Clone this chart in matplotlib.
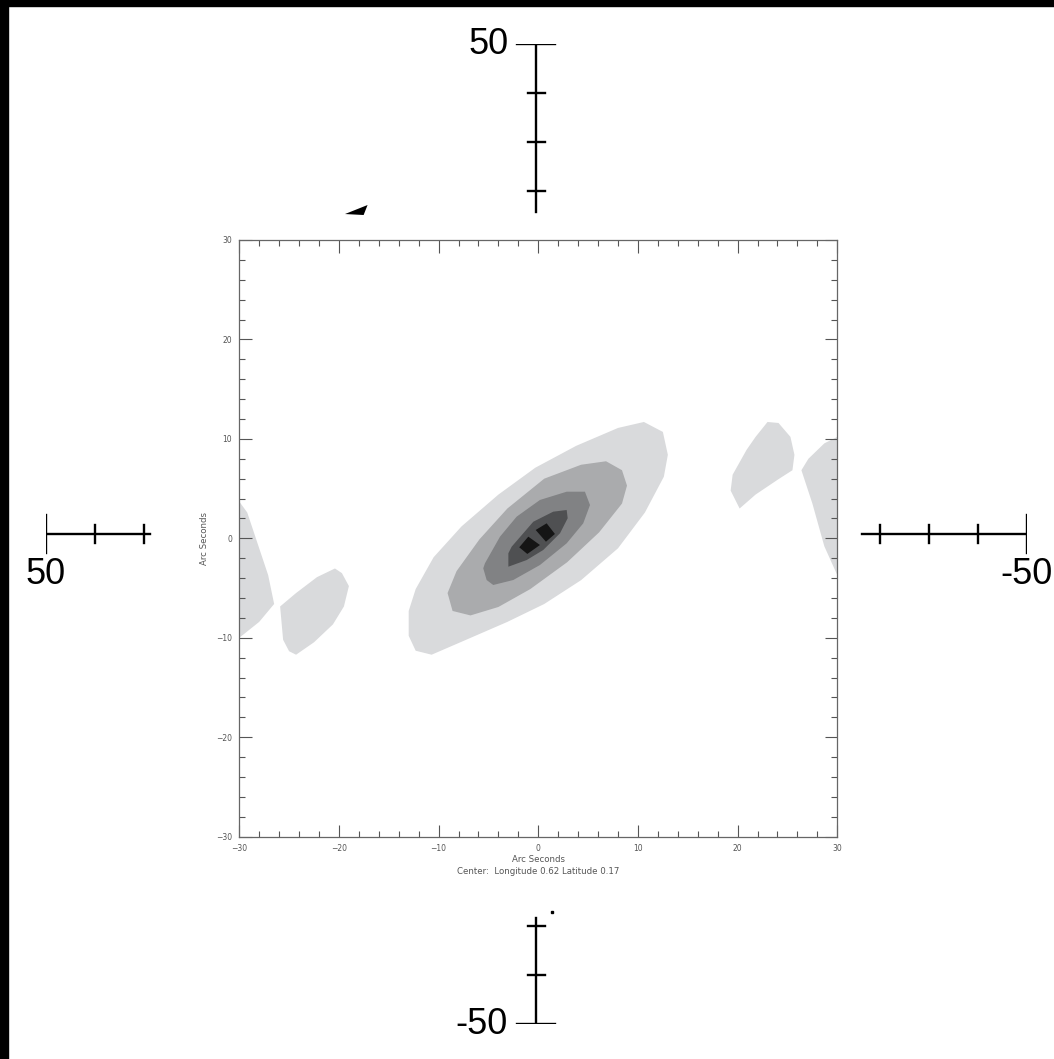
import matplotlib
matplotlib.use("Agg")
import matplotlib.pyplot as plt
from matplotlib.patches import Rectangle
from matplotlib.ticker import MultipleLocator

# filled contour outlines (arc seconds)
lev1_x = [10.6, 12.5, 13.0, 12.6, 10.7, 8.0, 4.3, 0.6, -3.1, -7.7, -10.7, -12.3, -13.0, -13.0, -12.3, -10.5, -7.7, -4.0, -0.3, 3.8, 8.0]
lev1_y = [11.7, 10.7, 8.4, 6.2, 2.6, -1.0, -4.2, -6.6, -8.4, -10.4, -11.7, -11.3, -9.8, -7.3, -5.1, -1.9, 1.2, 4.4, 7.1, 9.3, 11.1]

lev2_x = [6.8, 8.4, 8.9, 8.4, 6.1, 2.9, -0.8, -4.0, -6.8, -8.6, -9.1, -8.2, -5.9, -3.1, 0.6, 4.3]
lev2_y = [7.75, 6.85, 5.3, 3.5, 0.6, -2.4, -5.1, -6.9, -7.75, -7.3, -5.5, -3.3, -0.1, 3.0, 6.0, 7.4]

lev3_x = [-5.52, -5.35, -3.84, -2.17, 0.17, 2.85, 4.68, 5.19, 4.51, 2.85, 0.17, -2.51, -4.52, -5.18]
lev3_y = [-3.01, -2.51, 0.17, 2.18, 3.86, 4.69, 4.69, 3.35, 1.51, -0.5, -2.68, -4.19, -4.69, -4.19]

lev4_x = [-3.0, -3.0, -2.67, -0.5, 1.5, 2.85, 2.95, 2.18, 0.5, -1.16]
lev4_y = [-2.85, -1.5, -0.84, 1.67, 2.68, 2.85, 2.02, 0.51, -1.17, -2.18]

peak_a_x = [-1.91, -1.0, 0.17, -1.1]
peak_a_y = [-0.90, 0.17, -0.67, -1.57]
peak_b_x = [-0.26, 0.84, 1.67, 0.77]
peak_b_y = [0.84, 1.51, 0.44, -0.34]

# side lobes, lowest level only
lobe_r_x = [23.0, 24.1, 25.3, 25.7, 25.5, 24.1, 21.8, 20.2, 19.3, 19.5, 20.9, 21.8]
lobe_r_y = [11.7, 11.6, 10.2, 8.4, 6.85, 5.95, 4.4, 3.0, 4.8, 6.4, 8.9, 10.2]
lobe_rr_x = [30.0, 28.7, 27.1, 26.4, 27.5, 28.7, 30.0]
lobe_rr_y = [10.2, 9.55, 8.0, 6.85, 3.5, -0.8, -3.7]
lobe_ll_x = [-30.0, -29.2, -28.0, -27.1, -26.5, -28.0, -30.0]
lobe_ll_y = [3.7, 2.6, -1.0, -3.7, -6.6, -8.4, -10.0]
lobe_l_x = [-20.4, -19.7, -19.0, -19.5, -20.6, -22.5, -24.3, -25.0, -25.6, -25.9, -24.3, -22.2]
lobe_l_y = [-3.03, -3.5, -4.8, -6.85, -8.65, -10.45, -11.7, -11.35, -10.2, -6.85, -5.5, -3.9]

level_colors = ["#d9dadc", "#aaabad", "#818284", "#4f5052", "#151515"]

# outer scale bars (arc seconds, east to the left)
top_bar = [50, 32.9]
top_ticks = [45, 40, 35]
bottom_bar = [-39.2, -50]
bottom_ticks = [-40, -45]
left_bar = [50, 39.4]
left_ticks = [45, 40]
right_bar = [-33.2, -50]
right_ticks = [-35, -40, -45]

fig = plt.figure(figsize=(10.54, 10.59), dpi=100)
fig.patch.set_facecolor("white")
fig.patches.append(Rectangle((0, 0), 8 / 1054, 1, transform=fig.transFigure, color="black", zorder=5))
fig.patches.append(Rectangle((0, 1 - 6 / 1059), 1, 6 / 1059, transform=fig.transFigure, color="black", zorder=5))

# outer crosshair
out = fig.add_axes([0.04336, 0.03305, 0.9310, 0.9254])
out.set_xlim(50, -50)
out.set_ylim(-50, 50)
out.axis("off")
lw = 1.7
cap = 1.95
tk = 0.9
out.plot([0, 0], top_bar, color="black", lw=lw)
out.plot([0, 0], bottom_bar, color="black", lw=lw)
out.plot(left_bar, [0, 0], color="black", lw=lw)
out.plot(right_bar, [0, 0], color="black", lw=lw)
out.plot([cap, -cap], [50, 50], color="black", lw=lw)
out.plot([cap, -cap], [-50, -50], color="black", lw=lw)
out.plot([50, 50], [cap, -cap], color="black", lw=lw)
out.plot([-50, -50], [cap, -cap], color="black", lw=lw)
for t in top_ticks + bottom_ticks:
    out.plot([tk, -tk], [t, t], color="black", lw=lw)
for t in left_ticks + right_ticks:
    out.plot([t, t], [tk, -tk], color="black", lw=lw)

big = dict(fontsize=26, family=["Liberation Sans", "DejaVu Sans"], color="black")
out.annotate("50", xy=(cap, 50), xytext=(-6, 0), textcoords="offset points", ha="right", va="center", **big)
out.annotate("-50", xy=(cap, -50), xytext=(-7, 0), textcoords="offset points", ha="right", va="center", **big)
out.annotate("50", xy=(50, 0), xytext=(0, -29), textcoords="offset points", ha="center", va="center", **big)
out.annotate("-50", xy=(-50, 0), xytext=(0, -29), textcoords="offset points", ha="center", va="center", **big)

# stray marks in the scan
out.fill([19.5, 17.2, 17.6], [32.65, 33.57, 32.55], color="black", lw=0)
out.plot([-1.6], [-38.6], marker="s", ms=2, color="black")

# contour panel
ax = fig.add_axes([0.2270, 0.2099, 0.5674, 0.5635])
ax.set_facecolor("white")
for xs, ys in [(lobe_r_x, lobe_r_y), (lobe_rr_x, lobe_rr_y), (lobe_ll_x, lobe_ll_y), (lobe_l_x, lobe_l_y), (lev1_x, lev1_y)]:
    ax.fill(xs, ys, color=level_colors[0], lw=0)
ax.fill(lev2_x, lev2_y, color=level_colors[1], lw=0)
ax.fill(lev3_x, lev3_y, color=level_colors[2], lw=0)
ax.fill(lev4_x, lev4_y, color=level_colors[3], lw=0)
ax.fill(peak_a_x, peak_a_y, color=level_colors[4], lw=0)
ax.fill(peak_b_x, peak_b_y, color=level_colors[4], lw=0)

ax.set_xlim(-30, 30)
ax.set_ylim(-30, 30)
ax.set_xticks(range(-30, 31, 10))
ax.set_yticks(range(-30, 31, 10))
ax.xaxis.set_minor_locator(MultipleLocator(2))
ax.yaxis.set_minor_locator(MultipleLocator(2))
ax.tick_params(which="both", direction="in", top=True, right=True, color="#555555", width=0.8,
               labelsize=5.5, labelcolor="#555555")
ax.tick_params(which="major", length=9, pad=5)
ax.tick_params(which="minor", length=4.5)
for s in ax.spines.values():
    s.set_color("#666666")
    s.set_linewidth(0.9)

ax.set_xlabel("Arc Seconds\nCenter:  Longitude 0.62 Latitude 0.17", fontsize=6.2, color="#555555", labelpad=2, linespacing=1.3)
ax.set_ylabel("Arc Seconds", fontsize=6.2, color="#555555", labelpad=5)

fig.savefig("out.png", dpi=100, facecolor="white")
